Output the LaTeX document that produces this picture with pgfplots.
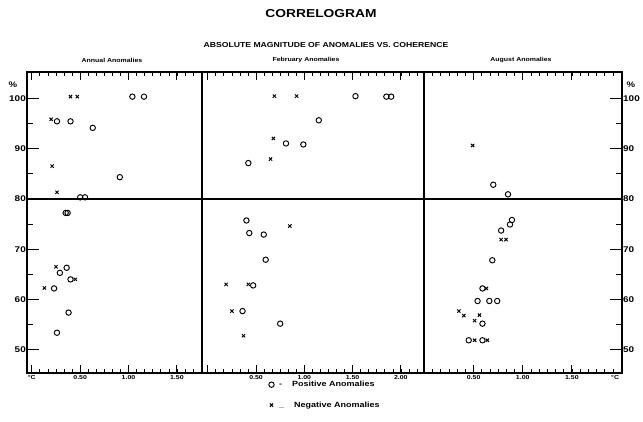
\documentclass[border=0pt]{standalone}
\usepackage{fontspec}
\setmainfont{Liberation Sans}[FakeStretch=1.2]
\usepackage{pgfplots}
\pgfplotsset{compat=1.18}

\pgfplotsset{
  panel/.style={
    scale only axis, height=301pt,
    ymin=45.4, ymax=105.2,
    axis line style={line width=1.3pt},
    tick align=inside,
    major tick length=8pt, minor tick length=4pt,
    every tick/.style={black, line width=0.8pt},
    xtick pos=both, xticklabel pos=lower,
    ytick=\empty,
    minor xtick={0.0833,0.1667,...,2.3},
    xticklabel style={font=\bfseries\fontsize{5.8}{6}\selectfont, inner sep=2pt},
  },
  ypanel/.style={
    scale only axis, height=301pt,
    ymin=45.4, ymax=105.2, xmin=0, xmax=1,
    hide x axis,
    axis line style={line width=1.3pt},
    tick align=inside,
    major tick length=12pt, minor tick length=6pt,
    every tick/.style={black, line width=0.9pt},
    ytick={50,60,70,80,90,100},
    yticklabels={50,60,70,80,90,100},
    minor ytick={55,65,75,85,95},
    yticklabel style={font=\bfseries\fontsize{8.3}{9}\selectfont, inner sep=1pt},
  },
  pos/.style={only marks, mark=o, mark size=2.7pt, black, mark options={line width=0.95pt}},
  neg/.style={only marks, mark=x, mark size=2.3pt, black, mark options={line width=0.95pt}},
  eighty/.style={black, line width=1.5pt, no marks, forget plot},
}

\begin{document}
\begin{tikzpicture}
\path[use as bounding box] (0,0) rectangle (643pt,422pt);

\node[font=\bfseries\fontsize{11.5}{12}\selectfont] at (321pt,408pt) {CORRELOGRAM};
\node[font=\bfseries\fontsize{7.2}{8}\selectfont] at (326pt,377pt) {ABSOLUTE MAGNITUDE OF ANOMALIES VS. COHERENCE};
\node[font=\bfseries\fontsize{5.8}{6}\selectfont] at (112pt,362pt) {Annual Anomalies};
\node[font=\bfseries\fontsize{5.8}{6}\selectfont] at (306pt,362pt) {February Anomalies};
\node[font=\bfseries\fontsize{5.8}{6}\selectfont] at (521pt,362pt) {August Anomalies};
\node[font=\bfseries\fontsize{8}{9}\selectfont] at (13pt,337pt) {\%};
\node[font=\bfseries\fontsize{8}{9}\selectfont] at (631pt,337pt) {\%};

% Annual
\begin{axis}[panel, at={(27pt,49pt)}, anchor=south west, width=175pt,
  xmin=-0.05, xmax=1.76,
  xtick={0,0.5,1,1.5}, xticklabels={°C,0.50,1.00,1.50}]
\addplot[eighty] coordinates {(-1,80) (3,80)};
\addplot[pos] coordinates {
  (1.04,100.3) (1.16,100.3) (0.26,95.4) (0.40,95.4) (0.63,94.1) (0.91,84.3)
  (0.50,80.3) (0.55,80.3) (0.35,77.2) (0.37,77.2) (0.29,65.3) (0.36,66.3)
  (0.40,64.0) (0.23,62.2) (0.38,57.4) (0.26,53.4)
};
\addplot[neg] coordinates {
  (0.40,100.3) (0.47,100.3) (0.20,95.8) (0.21,86.5) (0.26,81.3) (0.25,66.5)
  (0.45,64.0) (0.13,62.3)
};
\end{axis}
\begin{axis}[ypanel, at={(27pt,49pt)}, anchor=south west, width=175pt, ytick pos=left]
\end{axis}

% February
\begin{axis}[panel, at={(202pt,49pt)}, anchor=south west, width=222pt,
  xmin=-0.06, xmax=2.24,
  xtick={0,0.5,1,1.5,2}, xticklabels={,0.50,1.00,1.50,2.00},
  legend style={at={(0.30,-0.02)}, anchor=north west, draw=none, fill=none,
    inner sep=0pt, font=\bfseries\fontsize{7.5}{8}\selectfont, row sep=9.5pt},
  legend cell align=left]
\addplot[eighty] coordinates {(-1,80) (3,80)};
\addplot[pos] coordinates {
  (1.53,100.4) (1.85,100.3) (1.90,100.3) (1.15,95.6) (0.81,91.0) (0.99,90.8)
  (0.42,87.1) (0.40,75.7) (0.43,73.2) (0.58,72.9) (0.60,67.9) (0.47,62.8)
  (0.36,57.7) (0.75,55.2)
};
\addlegendentry{\hspace{3pt}-\hspace{10pt}Positive Anomalies}
\addplot[neg] coordinates {
  (0.69,100.4) (0.92,100.4) (0.68,92.0) (0.65,87.9) (0.85,74.6) (0.19,63.0)
  (0.42,63.0) (0.25,57.7) (0.37,52.8)
};
\addlegendentry{\hspace{3pt}\_\hspace{10pt}Negative Anomalies}
\end{axis}

% August
\begin{axis}[panel, at={(424pt,49pt)}, anchor=south west, width=198pt,
  xmin=-0.005, xmax=2.01,
  xtick={0.5,1,1.5}, xticklabels={0.50,1.00,1.50},
  extra x ticks={1.94}, extra x tick labels={°C},
  extra x tick style={major tick length=0pt}]
\addplot[eighty] coordinates {(-1,80) (3,80)};
\addplot[pos] coordinates {
  (0.70,82.8) (0.85,80.9) (0.89,75.8) (0.87,74.9) (0.78,73.7) (0.69,67.8)
  (0.59,62.2) (0.54,59.7) (0.66,59.7) (0.74,59.7) (0.59,55.2) (0.45,51.9)
  (0.59,51.9)
};
\addplot[neg] coordinates {
  (0.49,90.6) (0.78,71.9) (0.83,71.9) (0.63,62.2) (0.35,57.7) (0.40,56.8)
  (0.56,56.9) (0.51,55.8) (0.51,51.9) (0.64,51.9)
};
\end{axis}
\begin{axis}[ypanel, at={(424pt,49pt)}, anchor=south west, width=198pt,
  ytick pos=right, yticklabel pos=right]
\end{axis}
\end{tikzpicture}
\end{document}
